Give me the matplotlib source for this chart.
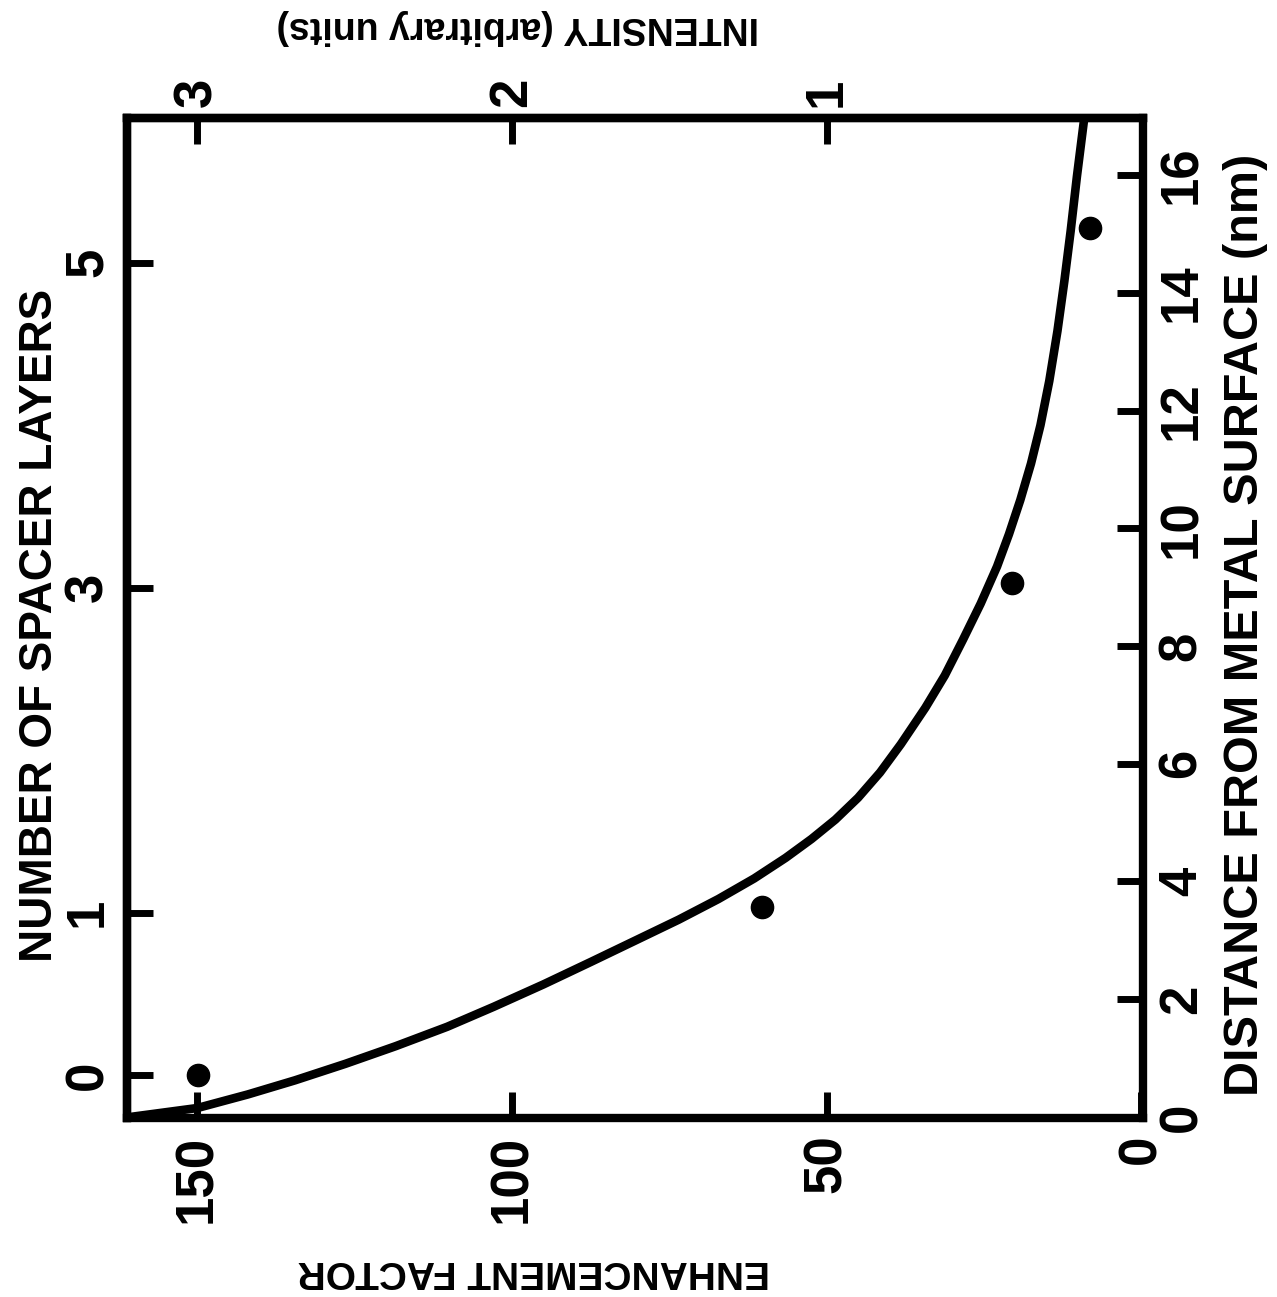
import matplotlib
matplotlib.use("Agg")
import matplotlib.pyplot as plt

# measured curve: enhancement factor vs distance from the metal surface (nm)
curve_ef = [160.5, 150.0, 142.0, 134.5, 126.5, 118.5, 110.3, 102.9, 95.0, 87.5,
            80.3, 73.5, 67.2, 61.5, 56.5, 52.4, 48.6, 45.0, 41.5, 38.2,
            34.3, 31.2, 28.3, 25.5, 22.9, 21.0, 19.2, 17.5, 16.0, 14.6,
            13.3, 12.2, 11.2, 10.2, 9.0]
curve_nm = [0.0, 0.15, 0.38, 0.62, 0.90, 1.20, 1.53, 1.87, 2.25, 2.63,
            3.00, 3.35, 3.70, 4.05, 4.40, 4.72, 5.05, 5.42, 5.85, 6.33,
            6.95, 7.50, 8.11, 8.72, 9.35, 9.90, 10.48, 11.10, 11.75, 12.50,
            13.35, 14.20, 15.05, 15.98, 17.0]

# experimental points
point_ef = [149.9, 60.3, 20.6, 8.1]
point_nm = [0.71, 3.57, 9.07, 15.10]

ef_ticks = [150, 100, 50, 0]
nm_ticks = [0, 2, 4, 6, 8, 10, 12, 14, 16]
layer_ticks = [0, 1, 3, 5]
intensity_ticks = [3, 2, 1]

# spacer layer -> distance (nm), intensity -> enhancement factor
LAYER_OFFSET = 0.71
LAYER_THICKNESS = 2.76
EF_PER_UNIT = 50.0

font = ["Liberation Sans", "DejaVu Sans"]
LW = 6.0

fig = plt.figure(figsize=(12.77, 12.97), dpi=100)
ax = fig.add_axes([127 / 1277, 1 - 1118 / 1297, 1016 / 1277, 1000 / 1297])

ax.plot(curve_ef, curve_nm, color="black", lw=6.2,
        solid_joinstyle="round", solid_capstyle="butt")
ax.plot(point_ef, point_nm, "o", color="black", ms=16)

ax.set_xlim(161.2, -0.3)
ax.set_ylim(-0.02, 16.97)

for s in ax.spines.values():
    s.set_linewidth(LW)

ax.yaxis.tick_right()
ax.set_xticks(ef_ticks)
ax.set_yticks(nm_ticks)
ax.tick_params(direction="in", length=19, width=5, labelsize=38)
ax.tick_params(axis="x", pad=12, labelrotation=90)
ax.tick_params(axis="y", pad=10, labelrotation=90)
for lab in ax.get_xticklabels() + ax.get_yticklabels():
    lab.set_fontweight("bold")
    lab.set_family(font)
for lab in ax.get_yticklabels():
    lab.set_va("center")

top = ax.secondary_xaxis("top", functions=(lambda e: e / EF_PER_UNIT,
                                           lambda i: i * EF_PER_UNIT))
top.set_xticks(intensity_ticks)
top.tick_params(direction="in", length=19, width=5, labelsize=38, pad=8,
                labelrotation=90)
top.spines["top"].set_linewidth(LW)

left = ax.secondary_yaxis("left", functions=(
    lambda d: (d - LAYER_OFFSET) / LAYER_THICKNESS,
    lambda n: LAYER_OFFSET + n * LAYER_THICKNESS))
left.set_yticks(layer_ticks)
left.tick_params(direction="in", length=19, width=5, labelsize=38, pad=10,
                 labelrotation=90)
left.spines["left"].set_linewidth(LW)

for lab in top.get_xticklabels() + left.get_yticklabels():
    lab.set_fontweight("bold")
    lab.set_family(font)
for lab in left.get_yticklabels():
    lab.set_va("center")

title_kw = dict(fontweight="bold", family=font, ha="center", va="center")
fig.text(40 / 1277, 1 - 625 / 1297, "NUMBER OF SPACER LAYERS",
         rotation=90, fontsize=33, **title_kw)
fig.text(1245 / 1277, 1 - 625 / 1297, "DISTANCE FROM METAL SURFACE (nm)",
         rotation=90, fontsize=35, **title_kw)
fig.text(518 / 1277, 1 - 27 / 1297, "INTENSITY (arbitrary units)",
         rotation=180, fontsize=27, **title_kw)
fig.text(534 / 1277, 1 - 1271 / 1297, "ENHANCEMENT FACTOR",
         rotation=180, fontsize=28, **title_kw)

fig.savefig("out.png", dpi=100)
